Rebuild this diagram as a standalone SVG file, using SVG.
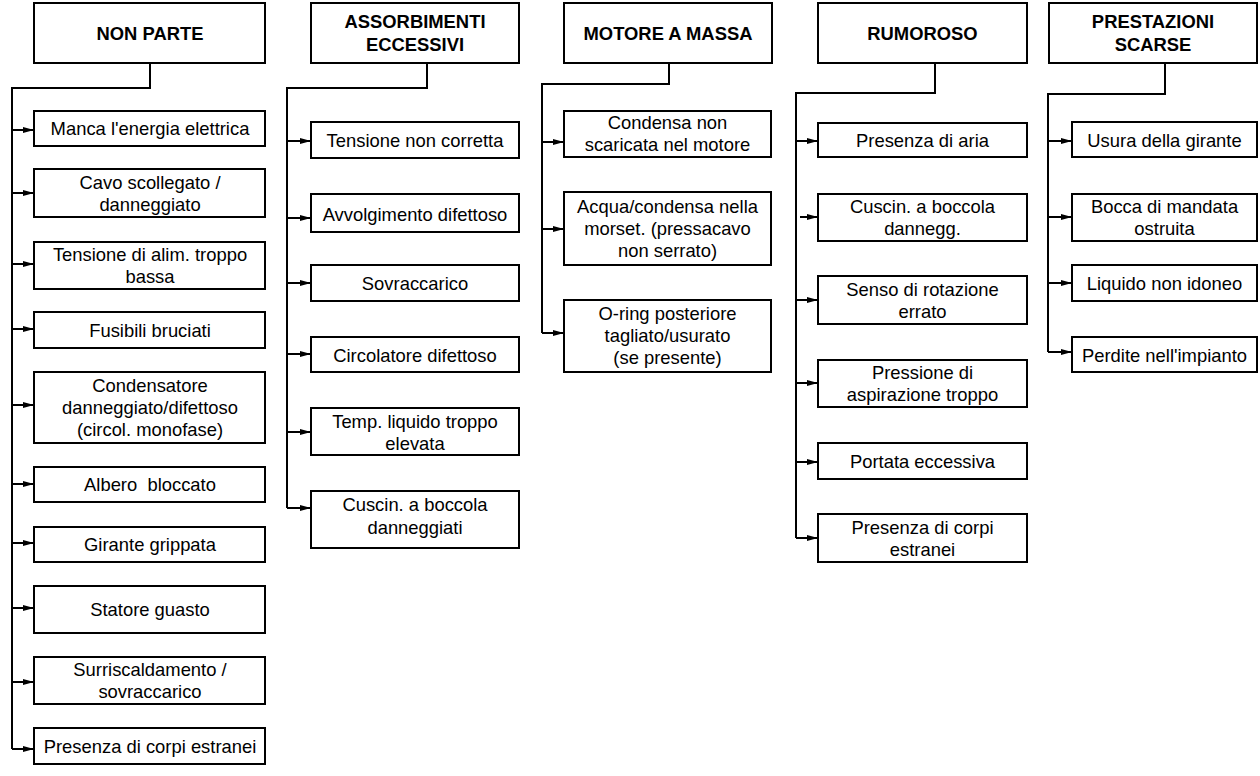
<svg xmlns="http://www.w3.org/2000/svg" width="1260" height="776" viewBox="0 0 1260 776">
<style>
.box{fill:#fff;stroke:#000;stroke-width:2}
.t{font-family:"Liberation Sans",Arial,sans-serif;font-size:18.4px;text-anchor:middle;fill:#000}
.h{font-weight:bold}
.c{fill:none;stroke:#000;stroke-width:2;stroke-linejoin:miter}
.a{marker-end:url(#ah)}
</style>
<defs>
<marker id="ah" markerUnits="userSpaceOnUse" markerWidth="11" markerHeight="6" refX="11" refY="3" orient="auto">
<path d="M0,0 L11,3 L0,6 z" fill="#000"/>
</marker>
</defs>
<rect width="1260" height="776" fill="#fff"/>

<g id="connectors">
<!-- col 1 -->
<path class="c" d="M150,63 V88 H12 V749"/>
<path class="c a" d="M12,749 H34"/>
<path class="c a" d="M12,130 H34"/>
<path class="c a" d="M12,193 H34"/>
<path class="c a" d="M12,264 H34"/>
<path class="c a" d="M12,329 H34"/>
<path class="c a" d="M12,405 H34"/>
<path class="c a" d="M12,484 H34"/>
<path class="c a" d="M12,543 H34"/>
<path class="c a" d="M12,608 H34"/>
<path class="c a" d="M12,682 H34"/>
<!-- col 2 -->
<path class="c" d="M427,63 V88 H287 V508"/>
<path class="c a" d="M287,508 H311"/>
<path class="c a" d="M287,141 H311"/>
<path class="c a" d="M287,218 H311"/>
<path class="c a" d="M287,283 H311"/>
<path class="c a" d="M287,354 H311"/>
<path class="c a" d="M287,432 H311"/>
<!-- col 3 -->
<path class="c" d="M669,63 V84 H542 V333"/>
<path class="c a" d="M542,333 H564"/>
<path class="c a" d="M542,142 H564"/>
<path class="c a" d="M542,229 H564"/>
<!-- col 4 -->
<path class="c" d="M935,63 V93 H796 V538"/>
<path class="c a" d="M796,538 H818"/>
<path class="c a" d="M796,141 H818"/>
<path class="c a" d="M800,217 H818"/>
<path class="c a" d="M796,300 H818"/>
<path class="c a" d="M796,383 H818"/>
<path class="c a" d="M796,462 H818"/>
<!-- col 5 -->
<path class="c" d="M1165,63 V94 H1048 V352"/>
<path class="c a" d="M1048,352 H1072"/>
<path class="c a" d="M1048,141 H1072"/>
<path class="c a" d="M1048,217 H1072"/>
<path class="c a" d="M1048,283 H1072"/>
</g>

<!-- Column 1 -->
<g id="h-non-parte"><rect class="box" x="34" y="3" width="231" height="60"/><text class="t h" x="150" y="39.5">NON PARTE</text></g>
<g id="n1-1"><rect class="box" x="34" y="111" width="231" height="35"/><text class="t" x="150" y="135">Manca l'energia elettrica</text></g>
<g id="n1-2"><rect class="box" x="34" y="169" width="231" height="48"/><text class="t" x="150" y="188.5">Cavo scollegato /</text><text class="t" x="150" y="210.5">danneggiato</text></g>
<g id="n1-3"><rect class="box" x="34" y="242" width="231" height="47"/><text class="t" x="150" y="261">Tensione di alim. troppo</text><text class="t" x="150" y="283">bassa</text></g>
<g id="n1-4"><rect class="box" x="34" y="312" width="231" height="36"/><text class="t" x="150" y="336.5">Fusibili bruciati</text></g>
<g id="n1-5"><rect class="box" x="34" y="372" width="231" height="71"/><text class="t" x="150" y="392">Condensatore</text><text class="t" x="150" y="414">danneggiato/difettoso</text><text class="t" x="150" y="436">(circol. monofase)</text></g>
<g id="n1-6"><rect class="box" x="34" y="467" width="231" height="35"/><text class="t" x="150" y="491" xml:space="preserve">Albero  bloccato</text></g>
<g id="n1-7"><rect class="box" x="34" y="527" width="231" height="35"/><text class="t" x="150" y="551">Girante grippata</text></g>
<g id="n1-8"><rect class="box" x="34" y="586" width="231" height="47"/><text class="t" x="150" y="616">Statore guasto</text></g>
<g id="n1-9"><rect class="box" x="34" y="657" width="231" height="47"/><text class="t" x="150" y="676">Surriscaldamento /</text><text class="t" x="150" y="698">sovraccarico</text></g>
<g id="n1-10"><rect class="box" x="34" y="728" width="231" height="36"/><text class="t" x="150" y="752.5">Presenza di corpi estranei</text></g>

<!-- Column 2 -->
<g id="h-assorbimenti"><rect class="box" x="311" y="3" width="208" height="60"/><text class="t h" x="415" y="28">ASSORBIMENTI</text><text class="t h" x="415" y="51.3">ECCESSIVI</text></g>
<g id="n2-1"><rect class="box" x="311" y="122" width="208" height="36"/><text class="t" x="415" y="147">Tensione non corretta</text></g>
<g id="n2-2"><rect class="box" x="311" y="194" width="208" height="38"/><text class="t" x="415" y="221">Avvolgimento difettoso</text></g>
<g id="n2-3"><rect class="box" x="311" y="265" width="208" height="36"/><text class="t" x="415" y="290">Sovraccarico</text></g>
<g id="n2-4"><rect class="box" x="311" y="337" width="208" height="35"/><text class="t" x="415" y="361.5">Circolatore difettoso</text></g>
<g id="n2-5"><rect class="box" x="311" y="408" width="208" height="47"/><text class="t" x="415" y="427.5">Temp. liquido troppo</text><text class="t" x="415" y="449.5">elevata</text></g>
<g id="n2-6"><rect class="box" x="311" y="491" width="208" height="57"/><text class="t" x="415" y="511">Cuscin. a boccola</text><text class="t" x="415" y="533.5">danneggiati</text></g>

<!-- Column 3 -->
<g id="h-motore"><rect class="box" x="564" y="3" width="208" height="60"/><text class="t h" x="668" y="39.5">MOTORE A MASSA</text></g>
<g id="n3-1"><rect class="box" x="564" y="111" width="207" height="46"/><text class="t" x="667.5" y="129">Condensa non</text><text class="t" x="667.5" y="151">scaricata nel motore</text></g>
<g id="n3-2"><rect class="box" x="564" y="192" width="207" height="73"/><text class="t" x="667.5" y="213">Acqua/condensa nella</text><text class="t" x="667.5" y="235">morset. (pressacavo</text><text class="t" x="667.5" y="257">non serrato)</text></g>
<g id="n3-3"><rect class="box" x="564" y="300" width="207" height="72"/><text class="t" x="667.5" y="320">O-ring posteriore</text><text class="t" x="667.5" y="342">tagliato/usurato</text><text class="t" x="667.5" y="364">(se presente)</text></g>

<!-- Column 4 -->
<g id="h-rumoroso"><rect class="box" x="818" y="3" width="209" height="60"/><text class="t h" x="922.5" y="39.5">RUMOROSO</text></g>
<g id="n4-1"><rect class="box" x="818" y="123" width="209" height="34"/><text class="t" x="922.5" y="147">Presenza di aria</text></g>
<g id="n4-2"><rect class="box" x="818" y="194" width="209" height="47"/><text class="t" x="922.5" y="213">Cuscin. a boccola</text><text class="t" x="922.5" y="235">dannegg.</text></g>
<g id="n4-3"><rect class="box" x="818" y="276" width="209" height="48"/><text class="t" x="922.5" y="295.5">Senso di rotazione</text><text class="t" x="922.5" y="317.5">errato</text></g>
<g id="n4-4"><rect class="box" x="818" y="360" width="209" height="47"/><text class="t" x="922.5" y="379">Pressione di</text><text class="t" x="922.5" y="401">aspirazione troppo</text></g>
<g id="n4-5"><rect class="box" x="818" y="443" width="209" height="36"/><text class="t" x="922.5" y="467.5">Portata eccessiva</text></g>
<g id="n4-6"><rect class="box" x="818" y="514" width="209" height="48"/><text class="t" x="922.5" y="533.5">Presenza di corpi</text><text class="t" x="922.5" y="555.5">estranei</text></g>

<!-- Column 5 -->
<g id="h-prestazioni"><rect class="box" x="1049" y="3" width="208" height="60"/><text class="t h" x="1153" y="28">PRESTAZIONI</text><text class="t h" x="1153" y="51.3">SCARSE</text></g>
<g id="n5-1"><rect class="box" x="1072" y="122" width="185" height="35"/><text class="t" x="1164.5" y="146.5">Usura della girante</text></g>
<g id="n5-2"><rect class="box" x="1072" y="194" width="185" height="47"/><text class="t" x="1164.5" y="213">Bocca di mandata</text><text class="t" x="1164.5" y="235">ostruita</text></g>
<g id="n5-3"><rect class="box" x="1072" y="265" width="185" height="36"/><text class="t" x="1164.5" y="290">Liquido non idoneo</text></g>
<g id="n5-4"><rect class="box" x="1072" y="337" width="185" height="35"/><text class="t" x="1164.5" y="361.5">Perdite nell'impianto</text></g>
</svg>
